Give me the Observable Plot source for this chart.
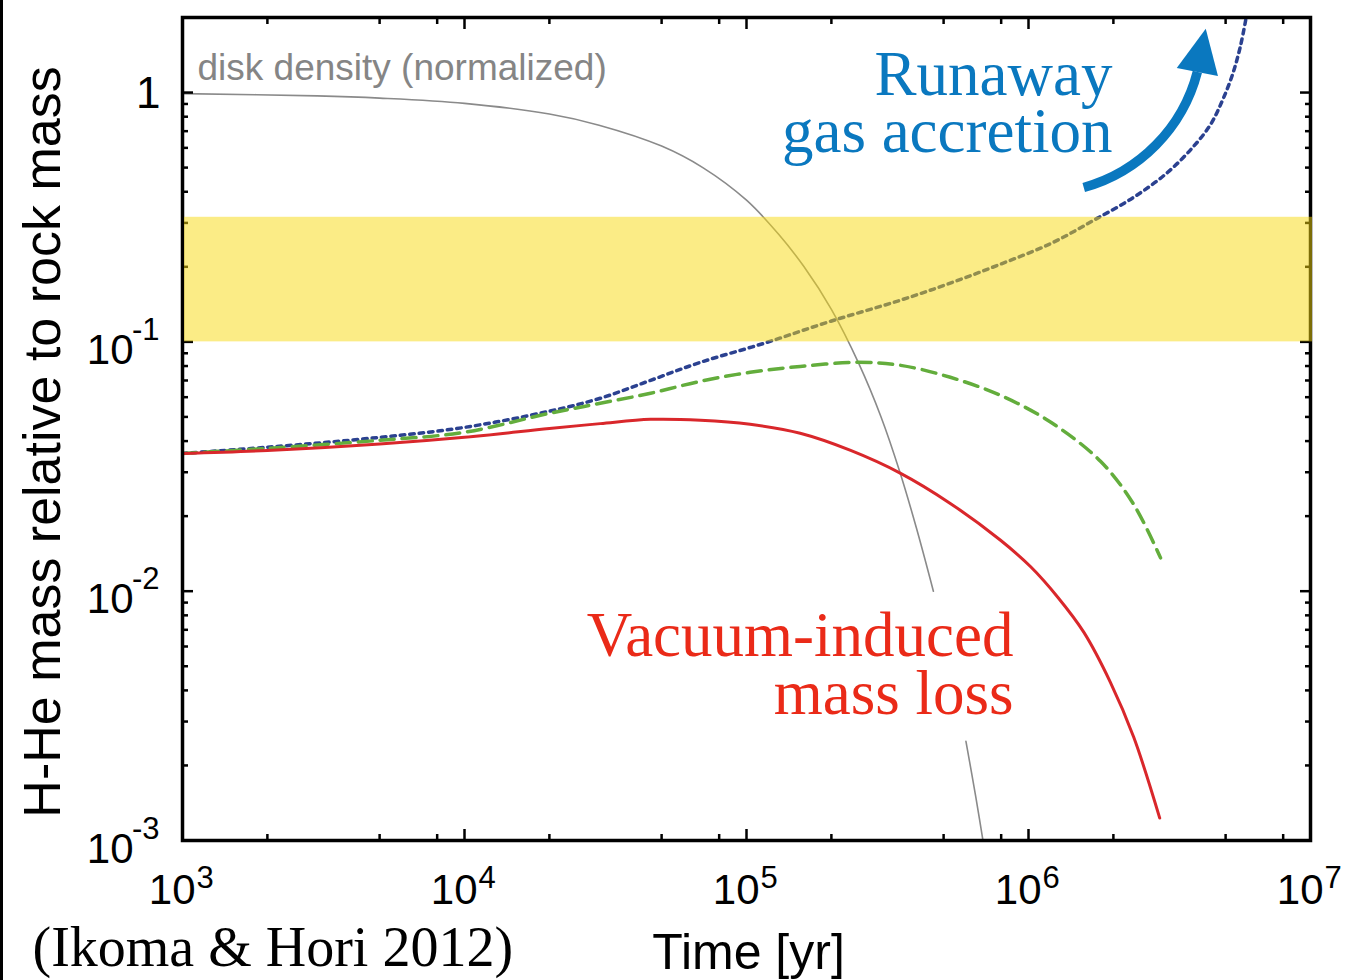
<!DOCTYPE html>
<html>
<head>
<meta charset="utf-8">
<script src="https://cdn.jsdelivr.net/npm/d3@7"></script>
<script src="https://cdn.jsdelivr.net/npm/@observablehq/plot@0.6"></script>
<style>
  html, body { margin: 0; padding: 0; background: #fff; }
  #chart { position: absolute; left: 0; top: 0; }
  #edge { position: absolute; left: 0; top: 0; width: 3px; height: 980px; background: #000; }
</style>
</head>
<body>
<div id="chart"></div>
<div id="edge"></div>
<script>
// Normalized disk gas density (null leaves a gap behind the red label)
const diskTime = [1e3, 3e3, 5e3, 1e4, 2e4, 3e4, 5e4, 7e4, 1e5, 1.3e5, 1.6e5, 2e5, 2.5e5, 3e5, 3.5e5, 4e5, 4.6e5, 5.3e5, 6e5, 6.5e5, 7e5];
const diskDensity = [0.99, 0.97, 0.95, 0.905, 0.82, 0.74, 0.61, 0.50, 0.37, 0.27, 0.20, 0.135, 0.082, 0.050, 0.030, 0.018, 0.0100, null, 0.0025, 0.0015, 0.0009];

// H-He envelope mass / rock mass: runaway accretion (dotted)
const runawayTime = [1e3, 2e3, 5e3, 1e4, 2e4, 3.03e4, 4.57e4, 6.87e4, 1.15e5, 1.99e5, 3.52e5, 5.28e5, 7.96e5, 1.2e6, 1.7e6, 2.36e6, 3.11e6, 3.85e6, 4.42e6, 4.87e6, 5.29e6, 5.65e6, 5.93e6];
const runawayMass = [0.0357, 0.0378, 0.0414, 0.0454, 0.0527, 0.0594, 0.0701, 0.0828, 0.0986, 0.121, 0.147, 0.172, 0.205, 0.248, 0.307, 0.380, 0.478, 0.608, 0.744, 0.929, 1.181, 1.543, 2.035];

// slower dispersal case (dashed)
const slowTime = [1e3, 2e3, 5e3, 1e4, 2e4, 3.03e4, 4.57e4, 6.87e4, 1.03e5, 1.55e5, 2.48e5, 3.52e5, 5.28e5, 7.96e5, 1.2e6, 1.8e6, 2.36e6, 2.94e6];
const slowMass = [0.0357, 0.0374, 0.0403, 0.0434, 0.0517, 0.0567, 0.0622, 0.0695, 0.0755, 0.0797, 0.0828, 0.0805, 0.0721, 0.0610, 0.0476, 0.0332, 0.0223, 0.0136];

// vacuum-induced mass loss (solid)
const lossTime = [1e3, 2e3, 5e3, 1e4, 2e4, 3.03e4, 4.57e4, 6.87e4, 1.03e5, 1.55e5, 2.34e5, 3.52e5, 5.28e5, 7.96e5, 1.02e6, 1.27e6, 1.57e6, 1.95e6, 2.36e6, 2.92e6];
const lossMass = [0.0357, 0.0367, 0.0389, 0.0414, 0.0449, 0.0470, 0.0489, 0.0485, 0.0467, 0.0430, 0.0367, 0.0297, 0.0225, 0.0160, 0.0125, 0.00946, 0.00685, 0.00432, 0.00260, 0.00123];

// highlighted range
const bandLow = 0.1;
const bandHigh = 0.316;

// axes
const xDomain = [1e3, 1e7];
const yDomain = [1e-3, 2];
const xMajor = [1e3, 1e4, 1e5, 1e6, 1e7];
const xExponent = ["3", "4", "5", "6", "7"];
const xMinor = [2e3, 5e3, 8e3, 2e4, 5e4, 8e4, 2e5, 5e5, 8e5, 2e6, 5e6, 8e6];
const yMajor = [1e-3, 1e-2, 1e-1, 1];
const yPowers = [1e-3, 1e-2, 1e-1];
const yExponent = ["-3", "-2", "-1"];
const yMinor = [2, 3, 4, 5, 6, 7, 8, 9].flatMap(m => [m * 1e-3, m * 1e-2, m * 1e-1]);

// runaway arrow (tail, base of head)
const arrowTail = {t: 1.57e6, v: 0.416};
const arrowHead = {t: 3.97e6, v: 1.21};

const toRows = (ts, vs) => ts.map((t, i) => ({t, v: vs[i]}));

const BLUE_TEXT = "#0a78bf";
const RED_TEXT = "#ea2a18";
const SANS = "'Liberation Sans', Arial, Helvetica, sans-serif";
const SERIF = "'Liberation Serif', 'Times New Roman', Times, serif";

const tickBase = {stroke: "black", strokeWidth: 2.5, fill: "none", label: null};

const chart = Plot.plot({
  width: 1346,
  height: 980,
  marginLeft: 182,
  marginRight: 36,
  marginTop: 17,
  marginBottom: 140,
  style: {background: "white", fontFamily: SANS},
  x: {type: "log", domain: xDomain},
  y: {type: "log", domain: yDomain},
  marks: [
    Plot.line(toRows(diskTime, diskDensity), {x: "t", y: "v", stroke: "#8a8a8a", strokeWidth: 1.6, curve: "catmull-rom", clip: true}),
    Plot.line(toRows(runawayTime, runawayMass), {x: "t", y: "v", stroke: "#2b4190", strokeWidth: 3.5, strokeDasharray: "4.5,5", curve: "catmull-rom", clip: true}),
    Plot.line(toRows(slowTime, slowMass), {x: "t", y: "v", stroke: "#63ad3c", strokeWidth: 3.5, strokeDasharray: "14,8", curve: "catmull-rom", clip: true}),
    Plot.line(toRows(lossTime, lossMass), {x: "t", y: "v", stroke: "#d9272b", strokeWidth: 3, curve: "catmull-rom", clip: true}),

    Plot.frame({stroke: "black", strokeWidth: 3.5}),
    Plot.axisX(xMajor, {anchor: "bottom", tickSize: -11, ...tickBase}),
    Plot.axisX(xMinor, {anchor: "bottom", tickSize: -6, ...tickBase}),
    Plot.axisX(xMajor, {anchor: "top", tickSize: -11, ...tickBase}),
    Plot.axisX(xMinor, {anchor: "top", tickSize: -6, ...tickBase}),
    Plot.axisY(yMajor, {anchor: "left", tickSize: -11, ...tickBase}),
    Plot.axisY(yMinor, {anchor: "left", tickSize: -6, ...tickBase}),
    Plot.axisY(yMajor, {anchor: "right", tickSize: -11, ...tickBase}),
    Plot.axisY(yMinor, {anchor: "right", tickSize: -6, ...tickBase}),

    // translucent band over the curves
    Plot.rect([{x1: xDomain[0], x2: xDomain[1], y1: bandLow, y2: bandHigh}], {
      x1: "x1", x2: "x2", y1: "y1", y2: "y2", fill: "#f7d90d", fillOpacity: 0.5, insetLeft: 2, insetRight: -2
    }),

    // x tick labels: 10 with superscript exponent
    Plot.text(xMajor, {x: d => d, frameAnchor: "bottom", text: () => "10", textAnchor: "end", lineAnchor: "bottom",
      dx: 13, dy: 63, fontSize: 42, fill: "black"}),
    Plot.text(xMajor, {x: d => d, frameAnchor: "bottom", text: (d, i) => xExponent[i], textAnchor: "start", lineAnchor: "bottom",
      dx: 14, dy: 47, fontSize: 31, fill: "black"}),

    // y tick labels
    Plot.text(yPowers, {y: d => d, frameAnchor: "left", text: () => "10", textAnchor: "end", lineAnchor: "bottom",
      dx: -49, dy: 22, fontSize: 42, fill: "black"}),
    Plot.text(yPowers, {y: d => d, frameAnchor: "left", text: (d, i) => yExponent[i], textAnchor: "end", lineAnchor: "bottom",
      dx: -23, dy: -2, fontSize: 31, fill: "black"}),
    Plot.text([1], {y: d => d, frameAnchor: "left", text: () => "1", textAnchor: "end", lineAnchor: "bottom",
      dx: -22, dy: 15, fontSize: 44, fill: "black"}),

    // axis titles
    Plot.text(["Time [yr]"], {frameAnchor: "bottom", textAnchor: "middle", lineAnchor: "bottom",
      dx: 2, dy: 128, fontSize: 50, fill: "black"}),
    Plot.text(["H-He mass relative to rock mass"], {frameAnchor: "left", rotate: -90, textAnchor: "middle", lineAnchor: "bottom",
      dx: -123, dy: 13, fontSize: 52, fill: "black"}),
    Plot.text(["(Ikoma & Hori 2012)"], {frameAnchor: "bottom-left", textAnchor: "start", lineAnchor: "bottom",
      dx: -150, dy: 125, fontSize: 56, fontFamily: SERIF, fill: "black"}),

    // annotations
    Plot.text(["disk density (normalized)"], {frameAnchor: "top-left", textAnchor: "start", lineAnchor: "bottom",
      dx: 15, dy: 62, fontSize: 37, fill: "#858585"}),
    Plot.arrow([{x1: arrowTail.t, y1: arrowTail.v, x2: arrowHead.t, y2: arrowHead.v}], {
      x1: "x1", y1: "y1", x2: "x2", y2: "y2", bend: -30, headLength: 0, stroke: BLUE_TEXT, strokeWidth: 9.5, strokeLinecap: "butt"
    }),
    Plot.vector([arrowHead], {x: "t", y: "v", shape: "spike", r: 21, length: 44, rotate: 11, anchor: "start",
      fill: BLUE_TEXT, stroke: "none"}),
    Plot.text(["Runaway\ngas accretion"], {frameAnchor: "top-right", textAnchor: "end", lineAnchor: "bottom", lineHeight: 0.89,
      dx: -198, dy: 134, fontSize: 63, fontFamily: SERIF, fill: BLUE_TEXT}),
    Plot.text(["Vacuum-induced\nmass loss"], {frameAnchor: "top-right", textAnchor: "end", lineAnchor: "bottom", lineHeight: 0.92,
      dx: -297, dy: 696, fontSize: 63, fontFamily: SERIF, fill: RED_TEXT})
  ]
});

document.getElementById("chart").appendChild(chart);
</script>
</body>
</html>
